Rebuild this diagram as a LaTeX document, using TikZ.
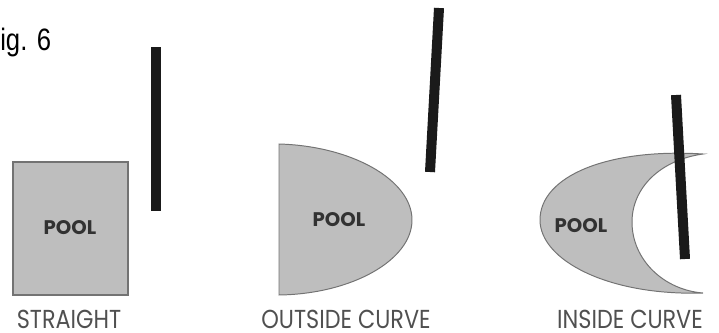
\documentclass[tikz,border=0pt]{standalone}
\usepackage{fontspec}
\setmainfont{Liberation Sans}
\newfontfamily\poolfont{Poppins}
\newfontfamily\capfont[FakeStretch=0.86]{Poppins}
\newfontfamily\figfont[FakeStretch=0.83]{Liberation Sans}
\usetikzlibrary{positioning}
\definecolor{poolgray}{RGB}{190,190,190}
\definecolor{rimgray}{RGB}{115,115,115}
\definecolor{barblack}{RGB}{26,26,26}
\definecolor{inkgray}{RGB}{50,50,50}
\definecolor{capgray}{RGB}{80,80,80}
\tikzset{
  pool/.style={fill=poolgray, draw=rimgray, line width=0.7pt},
  wall/.style={barblack, line width=0.25cm},
  plab/.style={font=\poolfont\fontsize{14}{16}\selectfont\bfseries, text=inkgray, inner sep=0pt},
  ttl/.style={font=\capfont\fontsize{18.5}{20}\selectfont, text=capgray, inner sep=0pt, anchor=base},
}
\begin{document}
\begin{tikzpicture}[scale=1.0]
\useasboundingbox (0,0) rectangle (17.975,8.3);
\node[anchor=base west, inner sep=0pt, font=\figfont\fontsize{22}{24}\selectfont] (fig) at (0,7.05) {ig. 6};
% straight
\begin{scope}
  \draw[pool, line width=1.3pt] (0.325,0.925) rectangle (3.2,4.25);
  \draw[wall] (3.9,7.125) -- (3.9,3.025);
  \node[plab] (pool1) at (1.75,2.6) {POOL};
  \node[ttl] (cap1) at (1.725,0.08) {STRAIGHT};
\end{scope}
% outside curve
\begin{scope}
  \draw[pool] (6.975,4.7) .. controls (8.8,4.65) and (10.3,3.8) .. (10.3,2.8)
    .. controls (10.3,1.8) and (8.8,0.95) .. (6.975,0.925) -- cycle;
  \draw[wall] (10.975,8.1) -- (10.75,4.0);
  \node[plab] (pool2) at (8.475,2.8) {POOL};
  \node[ttl] (cap2) at (8.65,0.08) {OUTSIDE CURVE};
\end{scope}
% inside curve
\begin{scope}
  \draw[pool] (17.575,4.45) .. controls (15.2,4.6) and (13.5,3.9) .. (13.5,2.8)
    .. controls (13.5,1.8) and (15.2,0.9) .. (17.575,0.975)
    .. controls (16.6,1.05) and (15.8,1.8) .. (15.8,2.75)
    .. controls (15.8,3.6) and (16.5,4.3) .. (17.575,4.45) -- cycle;
  \draw[wall] (16.9,5.925) -- (17.125,1.825);
  \node[plab] (pool3) at (14.525,2.65) {POOL};
  \node[ttl] (cap3) at (15.75,0.08) {INSIDE CURVE};
\end{scope}
\end{tikzpicture}
\end{document}
